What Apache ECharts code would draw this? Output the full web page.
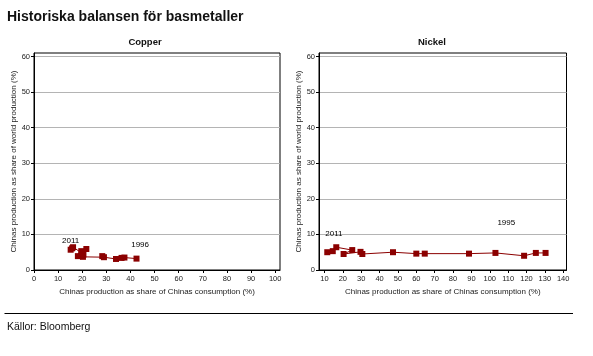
<!DOCTYPE html>
<html>
<head>
<meta charset="utf-8">
<script src="https://cdn.jsdelivr.net/npm/echarts@6/dist/echarts.min.js"></script>
<style>
html,body{margin:0;padding:0;background:#fff;}
#chart{width:593px;height:356px;}
</style>
</head>
<body>
<div id="chart"></div>
<script>
// ---- Data ----
const mainTitle = 'Historiska balansen för basmetaller';
const sourceText = 'Källor: Bloomberg';
const panelTitles = ['Copper', 'Nickel'];
const xAxisName = 'Chinas production as share of Chinas consumption (%)';
const yAxisName = 'Chinas production as share of world production (%)';

// Copper, chronological 1996 -> 2011
const copperX = [42.5, 37.5, 36.3, 34.0, 29.0, 28.3, 20.3, 19.5, 18.2, 20.5, 19.6, 21.7, 19.8, 16.2, 15.2, 15.8];
const copperY = [3.2, 3.5, 3.4, 3.1, 3.6, 3.9, 3.7, 4.0, 3.9, 4.3, 5.3, 5.9, 4.8, 6.4, 5.7, 6.1];
// Nickel, chronological 1995 -> 2011
const nickelX = [130.4, 125.1, 118.7, 103.1, 88.7, 64.6, 60.0, 47.3, 30.6, 29.6, 20.4, 25.1, 16.4, 14.5, 11.5];
const nickelY = [4.8, 4.8, 4.0, 4.8, 4.6, 4.6, 4.6, 5.0, 4.5, 5.1, 4.5, 5.6, 6.4, 5.3, 5.0];

// Year annotations (data coordinates)
const copperYearLabels = [['2011', 15.2, 8.1], ['1996', 44.0, 7.0]];
const nickelYearLabels = [['2011', 15.1, 10.1], ['1995', 109.0, 13.2]];

// Axis ticks
const copperXTicks = [0, 10, 20, 30, 40, 50, 60, 70, 80, 90, 100];
const nickelXTicks = [10, 20, 30, 40, 50, 60, 70, 80, 90, 100, 110, 120, 130, 140];
const yTicks = [0, 10, 20, 30, 40, 50, 60];
const copperXRange = [0, 102];
const nickelXRange = [7, 141.8];
const yRange = [0, 61];

// ---- Chart ----
const FONT = 'Liberation Sans, Arial, sans-serif';
const RED = '#8b0000';
const chart = echarts.init(document.getElementById('chart'), null, {renderer: 'canvas'});

function pairs(xs, ys) { return xs.map((x, i) => [x, ys[i]]); }

function xAxisCfg(idx, range, ticks) {
  return {
    type: 'value', gridIndex: idx, min: range[0], max: range[1],
    name: xAxisName, nameLocation: 'middle', nameGap: 17,
    nameTextStyle: {fontFamily: FONT, fontSize: 8, color: '#222'},
    axisLine: {show: true, lineStyle: {color: '#000', width: 1}},
    axisTick: {show: true, inside: false, length: 3, lineStyle: {color: '#000'}, customValues: ticks},
    axisLabel: {fontFamily: FONT, fontSize: 7.5, color: '#222', margin: 5, customValues: ticks},
    splitLine: {show: false}
  };
}
function yAxisCfg(idx) {
  return {
    type: 'value', gridIndex: idx, min: yRange[0], max: yRange[1], interval: 10,
    name: yAxisName, nameLocation: 'middle', nameGap: 15, nameRotate: 90,
    nameTextStyle: {fontFamily: FONT, fontSize: 8, color: '#222'},
    axisLine: {show: true, lineStyle: {color: '#000', width: 1}},
    axisTick: {show: true, inside: false, length: 3, lineStyle: {color: '#000'}, customValues: yTicks},
    axisLabel: {fontFamily: FONT, fontSize: 7.5, color: '#222', margin: 4, customValues: yTicks},
    splitLine: {show: true, lineStyle: {color: '#b4b4b4', width: 1}}
  };
}
function lineSeries(idx, xs, ys) {
  return {
    type: 'line', xAxisIndex: idx, yAxisIndex: idx,
    data: pairs(xs, ys),
    symbol: 'rect', symbolSize: 6,
    itemStyle: {color: RED},
    lineStyle: {color: RED, width: 1},
    animation: false, z: 3
  };
}
function labelSeries(idx, labels) {
  return {
    type: 'scatter', xAxisIndex: idx, yAxisIndex: idx,
    data: labels.map(l => ({name: l[0], value: [l[1], l[2]]})),
    symbolSize: 1, silent: true, animation: false,
    itemStyle: {opacity: 0},
    label: {show: true, position: 'inside', formatter: '{b}', fontFamily: FONT, fontSize: 8, color: '#000',
            textBorderWidth: 0, opacity: 1}
  };
}

const option = {
  backgroundColor: '#fff',
  animation: false,
  grid: [
    {left: 34, top: 53, width: 246, height: 217, show: true, borderColor: '#000', borderWidth: 1, backgroundColor: 'transparent'},
    {left: 319, top: 53, width: 247.5, height: 217, show: true, borderColor: '#000', borderWidth: 1, backgroundColor: 'transparent'}
  ],
  xAxis: [xAxisCfg(0, copperXRange, copperXTicks), xAxisCfg(1, nickelXRange, nickelXTicks)],
  yAxis: [yAxisCfg(0), yAxisCfg(1)],
  series: [
    lineSeries(0, copperX, copperY),
    lineSeries(1, nickelX, nickelY),
    labelSeries(0, copperYearLabels),
    labelSeries(1, nickelYearLabels)
  ],
  graphic: [
    {type: 'text', left: 7, top: 10, style: {text: mainTitle, fontFamily: FONT, fontSize: 14, fontWeight: 'bold', fill: '#111'}},
    {type: 'text', x: 145, y: 42, style: {text: panelTitles[0], fontFamily: FONT, fontSize: 9.5, fontWeight: 'bold', fill: '#111', align: 'center', verticalAlign: 'middle'}},
    {type: 'text', x: 432, y: 42, style: {text: panelTitles[1], fontFamily: FONT, fontSize: 9.5, fontWeight: 'bold', fill: '#111', align: 'center', verticalAlign: 'middle'}},
    {type: 'line', shape: {x1: 4.5, y1: 313.5, x2: 573, y2: 313.5}, style: {stroke: '#000', lineWidth: 1.2}},
    {type: 'text', x: 7, y: 327, style: {text: sourceText, fontFamily: FONT, fontSize: 10.5, fill: '#111', verticalAlign: 'middle'}}
  ]
};
chart.setOption(option);
</script>
</body>
</html>
